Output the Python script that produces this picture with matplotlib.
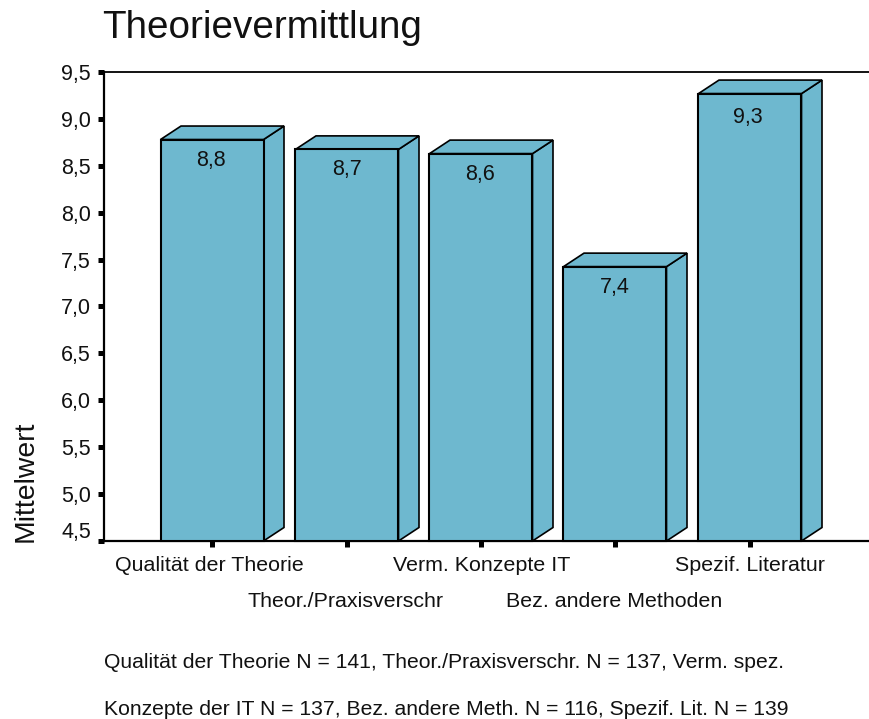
import matplotlib
matplotlib.use("Agg")
import matplotlib.pyplot as plt
from matplotlib.patches import Polygon, Rectangle
from matplotlib.transforms import ScaledTranslation

categories = ["Qualität der Theorie", "Theor./Praxisverschr", "Verm. Konzepte IT", "Bez. andere Methoden", "Spezif. Literatur"]
values = [8.78, 8.675, 8.63, 7.425, 9.27]
labels = ["8,8", "8,7", "8,6", "7,4", "9,3"]
yticks = [4.5, 5.0, 5.5, 6.0, 6.5, 7.0, 7.5, 8.0, 8.5, 9.0, 9.5]
ylabels = ["4,5", "5,0", "5,5", "6,0", "6,5", "7,0", "7,5", "8,0", "8,5", "9,0", "9,5"]
title = "Theorievermittlung"
ylabel = "Mittelwert"
foot1 = "Qualität der Theorie N = 141, Theor./Praxisverschr. N = 137, Verm. spez."
foot2 = "Konzepte der IT N = 137, Bez. andere Meth. N = 116, Spezif. Lit. N = 139"

W, H = 869, 719
plt.rcParams["font.family"] = ["Liberation Sans", "DejaVu Sans"]
fig = plt.figure(figsize=(W / 100, H / 100), dpi=100)
L, R, T, B = 104, 869, 72, 541
ax = fig.add_axes([L / W, 1 - B / H, (R - L) / W, (B - T) / H])
ax.set_xlim(L, R)
ax.set_ylim(4.5, 9.5)
ax.spines["right"].set_visible(False)
for s in ["left", "bottom"]:
    ax.spines[s].set_linewidth(1.6)
ax.spines["top"].set_linewidth(1.3)

centers = [212, 347, 481, 615, 750]
label_dx = [-1, 0, -1, 0, -2]
label_drop = [26, 26, 26, 26, 29]
bw = 103
dx, dy_px = 20.5, 13.5
ppu = (B - T) / 5.0
dy = dy_px / ppu
col = "#6EB8CF"
base = 4.5
for c, v, lab, ldx, ldr in zip(centers, values, labels, label_dx, label_drop):
    x0, x1 = c - bw / 2, c + bw / 2
    ax.add_patch(Polygon([(x1, base), (x1 + dx, base + dy), (x1 + dx, v + dy), (x1, v)], closed=True, fc=col, ec="black", lw=1.2, clip_on=False, zorder=3))
    ax.add_patch(Polygon([(x0, v), (x0 + dx, v + dy), (x1 + dx, v + dy), (x1, v)], closed=True, fc=col, ec="black", lw=1.2, clip_on=False, zorder=3))
    ax.add_patch(Rectangle((x0, base), bw, v - base, fc=col, ec="black", lw=1.5, clip_on=False, zorder=3))
    ax.text(c + ldx, v - ldr / ppu, lab, ha="center", va="baseline", fontsize=15.5, color="#111111", zorder=4)

ax.set_yticks(yticks, ylabels, fontsize=15.5)
ax.tick_params(axis="y", direction="out", length=4.5, width=3.6, pad=5, labelcolor="#111111")
ax.set_xticks(centers)
ax.set_xticklabels([])
ax.tick_params(axis="x", direction="out", length=4.5, width=3.6)
# the lowest y label sits above its tick in the reference
lab0 = ax.get_yticklabels()[0]
lab0.set_transform(lab0.get_transform() + ScaledTranslation(0, 11 / 100, fig.dpi_scale_trans))

for c, cat, yy in zip([209.5, 345, 481.5, 614.5, 749.5], categories, [570.7, 606.7, 570.7, 606.7, 570.7]):
    fig.text(c / W, 1 - yy / H, cat, ha="center", va="baseline", fontsize=15.4, color="#111111")

fig.text(102 / W, 1 - 37.5 / H, title, ha="left", va="baseline", fontsize=27.8, color="#111111")
fig.text(32.7 / W, 1 - 481.5 / H, ylabel, rotation=90, rotation_mode="anchor", ha="center", va="baseline", fontsize=20.4, color="#111111")
fig.text(104 / W, 1 - 668.3 / H, foot1, ha="left", va="baseline", fontsize=15.25, color="#111111")
fig.text(104 / W, 1 - 715 / H, foot2, ha="left", va="baseline", fontsize=15.25, color="#111111")
fig.savefig("out.png", dpi=100)
